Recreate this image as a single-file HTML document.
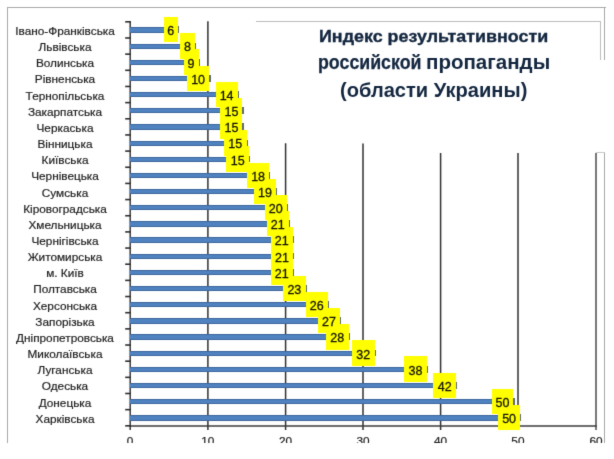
<!DOCTYPE html><html><head><meta charset="utf-8"><style>
html,body{margin:0;padding:0;background:#fff;}
body{width:614px;height:459px;position:relative;overflow:hidden;font-family:"Liberation Sans",sans-serif;}
.a{position:absolute;}
.lbl{position:absolute;left:0;width:130px;text-align:center;font-size:11.8px;color:#1e1e1e;line-height:14px;white-space:nowrap;-webkit-text-stroke:0.2px #1e1e1e;}
.bar{position:absolute;background:#4f82c0;height:5.3px;box-shadow:inset 0 1px 0 #3d679c,inset 0 -1px 0 #3d679c;}
.box{position:absolute;background:#ffff00;height:25.4px;}
.num{position:absolute;font-size:12.5px;color:#141400;-webkit-text-stroke:0.3px #141400;line-height:14px;text-align:center;white-space:nowrap;}
.mk{position:absolute;width:1.7px;height:6.8px;background:#606a76;}
.g{position:absolute;width:2px;background:#3e3e3e;}
.xl{position:absolute;font-size:11.8px;color:#222;-webkit-text-stroke:0.2px #222;line-height:14px;width:40px;text-align:center;}
.t{position:absolute;left:0;width:614px;text-align:center;font-weight:bold;color:#182c4a;white-space:nowrap;}
.t2{position:absolute;font-weight:bold;color:#13263f;white-space:nowrap;transform-origin:0 0;}
#w{position:absolute;left:0;top:0;width:640px;height:480px;background:#fff;filter:url(#bl);}
</style></head><body><svg width="0" height="0" style="position:absolute"><filter id="bl" x="0" y="0" width="100%" height="100%" color-interpolation-filters="sRGB"><feConvolveMatrix order="3" kernelMatrix="0.0112 0.0835 0.0112 0.0835 0.6212 0.0835 0.0112 0.0835 0.0112" edgeMode="duplicate" preserveAlpha="true"/></filter></svg><div id="w">
<div class="a" style="left:7px;top:7px;width:599px;height:1px;background:#a8a8a8"></div>
<div class="a" style="left:7px;top:7px;width:1px;height:436px;background:#a8a8a8"></div>
<div class="a" style="left:604px;top:7px;width:1px;height:53px;background:#a8a8a8"></div>
<div class="a" style="left:604px;top:152px;width:1px;height:291px;background:#a8a8a8"></div>
<div class="a" style="left:596px;top:152px;width:9px;height:1px;background:#c8c8c8"></div>
<div class="a" style="left:256px;top:21px;width:344px;height:1px;background:#bcbcbc"></div>
<div class="a" style="left:600px;top:21px;width:1px;height:39px;background:#bcbcbc"></div>
<svg class="a" style="left:0;top:0" width="614" height="459" shape-rendering="geometricPrecision"><line x1="207.9" y1="21.2" x2="207.9" y2="430" stroke="#303030" stroke-width="1.5"/><line x1="285.6" y1="143.2" x2="285.6" y2="430" stroke="#303030" stroke-width="1.5"/><line x1="363.0" y1="143.5" x2="363.0" y2="430" stroke="#303030" stroke-width="1.5"/><line x1="440.6" y1="153.0" x2="440.6" y2="430" stroke="#303030" stroke-width="1.5"/><line x1="518.0" y1="153.0" x2="518.0" y2="430" stroke="#303030" stroke-width="1.5"/><line x1="596.0" y1="153.0" x2="596.0" y2="430" stroke="#4a4a4a" stroke-width="1.5"/><line x1="130.2" y1="21.3" x2="130.2" y2="430" stroke="#3a3a3a" stroke-width="1.5"/><line x1="129.5" y1="425.9" x2="596.7" y2="425.9" stroke="#3a3a3a" stroke-width="1.5"/><line x1="125.2" y1="21.82" x2="130.9" y2="21.82" stroke="#2e2e2e" stroke-width="1.6"/><line x1="125.2" y1="37.98" x2="130.9" y2="37.98" stroke="#2e2e2e" stroke-width="1.6"/><line x1="125.2" y1="54.14" x2="130.9" y2="54.14" stroke="#2e2e2e" stroke-width="1.6"/><line x1="125.2" y1="70.30" x2="130.9" y2="70.30" stroke="#2e2e2e" stroke-width="1.6"/><line x1="125.2" y1="86.46" x2="130.9" y2="86.46" stroke="#2e2e2e" stroke-width="1.6"/><line x1="125.2" y1="102.62" x2="130.9" y2="102.62" stroke="#2e2e2e" stroke-width="1.6"/><line x1="125.2" y1="118.78" x2="130.9" y2="118.78" stroke="#2e2e2e" stroke-width="1.6"/><line x1="125.2" y1="134.94" x2="130.9" y2="134.94" stroke="#2e2e2e" stroke-width="1.6"/><line x1="125.2" y1="151.10" x2="130.9" y2="151.10" stroke="#2e2e2e" stroke-width="1.6"/><line x1="125.2" y1="167.26" x2="130.9" y2="167.26" stroke="#2e2e2e" stroke-width="1.6"/><line x1="125.2" y1="183.42" x2="130.9" y2="183.42" stroke="#2e2e2e" stroke-width="1.6"/><line x1="125.2" y1="199.58" x2="130.9" y2="199.58" stroke="#2e2e2e" stroke-width="1.6"/><line x1="125.2" y1="215.74" x2="130.9" y2="215.74" stroke="#2e2e2e" stroke-width="1.6"/><line x1="125.2" y1="231.90" x2="130.9" y2="231.90" stroke="#2e2e2e" stroke-width="1.6"/><line x1="125.2" y1="248.06" x2="130.9" y2="248.06" stroke="#2e2e2e" stroke-width="1.6"/><line x1="125.2" y1="264.22" x2="130.9" y2="264.22" stroke="#2e2e2e" stroke-width="1.6"/><line x1="125.2" y1="280.38" x2="130.9" y2="280.38" stroke="#2e2e2e" stroke-width="1.6"/><line x1="125.2" y1="296.54" x2="130.9" y2="296.54" stroke="#2e2e2e" stroke-width="1.6"/><line x1="125.2" y1="312.70" x2="130.9" y2="312.70" stroke="#2e2e2e" stroke-width="1.6"/><line x1="125.2" y1="328.86" x2="130.9" y2="328.86" stroke="#2e2e2e" stroke-width="1.6"/><line x1="125.2" y1="345.02" x2="130.9" y2="345.02" stroke="#2e2e2e" stroke-width="1.6"/><line x1="125.2" y1="361.18" x2="130.9" y2="361.18" stroke="#2e2e2e" stroke-width="1.6"/><line x1="125.2" y1="377.34" x2="130.9" y2="377.34" stroke="#2e2e2e" stroke-width="1.6"/><line x1="125.2" y1="393.50" x2="130.9" y2="393.50" stroke="#2e2e2e" stroke-width="1.6"/><line x1="125.2" y1="409.66" x2="130.9" y2="409.66" stroke="#2e2e2e" stroke-width="1.6"/><line x1="125.2" y1="425.82" x2="130.9" y2="425.82" stroke="#2e2e2e" stroke-width="1.6"/></svg>
<div class="lbl" style="top:23.90px">Івано-Франківська</div>
<div class="bar" style="left:130.00px;top:27.40px;width:33.50px"></div>
<div class="mk" style="left:177.60px;top:26.40px"></div>
<div class="lbl" style="top:40.06px">Львівська</div>
<div class="bar" style="left:130.00px;top:43.56px;width:50.30px"></div>
<div class="mk" style="left:194.20px;top:42.56px"></div>
<div class="lbl" style="top:56.22px">Волинська</div>
<div class="bar" style="left:130.00px;top:59.72px;width:53.50px"></div>
<div class="mk" style="left:198.20px;top:58.72px"></div>
<div class="lbl" style="top:72.38px">Рівненська</div>
<div class="bar" style="left:130.00px;top:75.88px;width:56.80px"></div>
<div class="mk" style="left:209.00px;top:74.88px"></div>
<div class="lbl" style="top:88.54px">Тернопільська</div>
<div class="bar" style="left:130.00px;top:92.04px;width:85.60px"></div>
<div class="mk" style="left:237.20px;top:91.04px"></div>
<div class="lbl" style="top:104.70px">Закарпатська</div>
<div class="bar" style="left:130.00px;top:108.20px;width:90.40px"></div>
<div class="mk" style="left:242.10px;top:107.20px"></div>
<div class="lbl" style="top:120.86px">Черкаська</div>
<div class="bar" style="left:130.00px;top:124.36px;width:90.40px"></div>
<div class="mk" style="left:242.10px;top:123.36px"></div>
<div class="lbl" style="top:137.02px">Вінницька</div>
<div class="bar" style="left:130.00px;top:140.52px;width:94.00px"></div>
<div class="mk" style="left:246.20px;top:139.52px"></div>
<div class="lbl" style="top:153.18px">Київська</div>
<div class="bar" style="left:130.00px;top:156.68px;width:96.40px"></div>
<div class="mk" style="left:248.60px;top:155.68px"></div>
<div class="lbl" style="top:169.34px">Чернівецька</div>
<div class="bar" style="left:130.00px;top:172.84px;width:117.20px"></div>
<div class="mk" style="left:268.60px;top:171.84px"></div>
<div class="lbl" style="top:185.50px">Сумська</div>
<div class="bar" style="left:130.00px;top:189.00px;width:124.00px"></div>
<div class="mk" style="left:275.40px;top:188.00px"></div>
<div class="lbl" style="top:201.66px">Кіровоградська</div>
<div class="bar" style="left:130.00px;top:205.16px;width:134.80px"></div>
<div class="mk" style="left:286.20px;top:204.16px"></div>
<div class="lbl" style="top:217.82px">Хмельницька</div>
<div class="bar" style="left:130.00px;top:221.32px;width:136.60px"></div>
<div class="mk" style="left:288.40px;top:220.32px"></div>
<div class="lbl" style="top:233.98px">Чернігівська</div>
<div class="bar" style="left:130.00px;top:237.48px;width:140.70px"></div>
<div class="mk" style="left:292.30px;top:236.48px"></div>
<div class="lbl" style="top:250.14px">Житомирська</div>
<div class="bar" style="left:130.00px;top:253.64px;width:140.90px"></div>
<div class="mk" style="left:292.50px;top:252.64px"></div>
<div class="lbl" style="top:266.30px">м. Київ</div>
<div class="bar" style="left:130.00px;top:269.80px;width:140.70px"></div>
<div class="mk" style="left:292.30px;top:268.80px"></div>
<div class="lbl" style="top:282.46px">Полтавська</div>
<div class="bar" style="left:130.00px;top:285.96px;width:153.10px"></div>
<div class="mk" style="left:305.20px;top:284.96px"></div>
<div class="lbl" style="top:298.62px">Херсонська</div>
<div class="bar" style="left:130.00px;top:302.12px;width:175.60px"></div>
<div class="mk" style="left:327.60px;top:301.12px"></div>
<div class="lbl" style="top:314.78px">Запорізька</div>
<div class="bar" style="left:130.00px;top:318.28px;width:188.00px"></div>
<div class="mk" style="left:339.40px;top:317.28px"></div>
<div class="lbl" style="top:330.94px">Дніпропетровська</div>
<div class="bar" style="left:130.00px;top:334.44px;width:195.90px"></div>
<div class="mk" style="left:348.20px;top:333.44px"></div>
<div class="lbl" style="top:347.10px">Миколаївська</div>
<div class="bar" style="left:130.00px;top:350.60px;width:222.00px"></div>
<div class="mk" style="left:374.20px;top:349.60px"></div>
<div class="lbl" style="top:363.26px">Луганська</div>
<div class="bar" style="left:130.00px;top:366.76px;width:274.00px"></div>
<div class="mk" style="left:426.40px;top:365.76px"></div>
<div class="lbl" style="top:379.42px">Одеська</div>
<div class="bar" style="left:130.00px;top:382.92px;width:303.40px"></div>
<div class="mk" style="left:455.70px;top:381.92px"></div>
<div class="lbl" style="top:395.58px">Донецька</div>
<div class="bar" style="left:130.00px;top:399.08px;width:361.70px"></div>
<div class="mk" style="left:512.90px;top:398.08px"></div>
<div class="lbl" style="top:411.74px">Харківська</div>
<div class="bar" style="left:130.00px;top:415.24px;width:368.00px"></div>
<div class="mk" style="left:519.80px;top:414.24px"></div>
<div class="box" style="left:163.50px;top:17.10px;width:14.50px"></div>
<div class="box" style="left:180.30px;top:33.26px;width:14.30px"></div>
<div class="box" style="left:183.50px;top:49.42px;width:15.10px"></div>
<div class="box" style="left:186.80px;top:65.58px;width:22.60px"></div>
<div class="box" style="left:215.60px;top:81.74px;width:22.00px"></div>
<div class="box" style="left:220.40px;top:97.90px;width:22.10px"></div>
<div class="box" style="left:220.40px;top:114.06px;width:22.10px"></div>
<div class="box" style="left:224.00px;top:130.22px;width:22.60px"></div>
<div class="box" style="left:226.40px;top:146.38px;width:22.60px"></div>
<div class="box" style="left:247.20px;top:162.54px;width:21.80px"></div>
<div class="box" style="left:254.00px;top:178.70px;width:21.80px"></div>
<div class="box" style="left:264.80px;top:194.86px;width:21.80px"></div>
<div class="box" style="left:266.60px;top:211.02px;width:22.20px"></div>
<div class="box" style="left:270.70px;top:227.18px;width:22.00px"></div>
<div class="box" style="left:270.90px;top:243.34px;width:22.00px"></div>
<div class="box" style="left:270.70px;top:259.50px;width:22.00px"></div>
<div class="box" style="left:283.10px;top:275.66px;width:22.50px"></div>
<div class="box" style="left:305.60px;top:291.82px;width:22.40px"></div>
<div class="box" style="left:318.00px;top:307.98px;width:21.80px"></div>
<div class="box" style="left:325.90px;top:324.14px;width:22.70px"></div>
<div class="box" style="left:352.00px;top:340.30px;width:22.60px"></div>
<div class="box" style="left:404.00px;top:356.46px;width:22.80px"></div>
<div class="box" style="left:433.40px;top:372.62px;width:22.70px"></div>
<div class="box" style="left:491.70px;top:388.78px;width:21.60px"></div>
<div class="box" style="left:498.00px;top:404.94px;width:22.20px"></div>
<div class="num" style="left:163.50px;top:24.30px;width:14.50px">6</div>
<div class="num" style="left:180.30px;top:40.46px;width:14.30px">8</div>
<div class="num" style="left:183.50px;top:56.62px;width:15.10px">9</div>
<div class="num" style="left:186.80px;top:72.78px;width:22.60px">10</div>
<div class="num" style="left:215.60px;top:88.94px;width:22.00px">14</div>
<div class="num" style="left:220.40px;top:105.10px;width:22.10px">15</div>
<div class="num" style="left:220.40px;top:121.26px;width:22.10px">15</div>
<div class="num" style="left:224.00px;top:137.42px;width:22.60px">15</div>
<div class="num" style="left:226.40px;top:153.58px;width:22.60px">15</div>
<div class="num" style="left:247.20px;top:169.74px;width:21.80px">18</div>
<div class="num" style="left:254.00px;top:185.90px;width:21.80px">19</div>
<div class="num" style="left:264.80px;top:202.06px;width:21.80px">20</div>
<div class="num" style="left:266.60px;top:218.22px;width:22.20px">21</div>
<div class="num" style="left:270.70px;top:234.38px;width:22.00px">21</div>
<div class="num" style="left:270.90px;top:250.54px;width:22.00px">21</div>
<div class="num" style="left:270.70px;top:266.70px;width:22.00px">21</div>
<div class="num" style="left:283.10px;top:282.86px;width:22.50px">23</div>
<div class="num" style="left:305.60px;top:299.02px;width:22.40px">26</div>
<div class="num" style="left:318.00px;top:315.18px;width:21.80px">27</div>
<div class="num" style="left:325.90px;top:331.34px;width:22.70px">28</div>
<div class="num" style="left:352.00px;top:347.50px;width:22.60px">32</div>
<div class="num" style="left:404.00px;top:363.66px;width:22.80px">38</div>
<div class="num" style="left:433.40px;top:379.82px;width:22.70px">42</div>
<div class="num" style="left:491.70px;top:395.98px;width:21.60px">50</div>
<div class="num" style="left:498.00px;top:412.14px;width:22.20px">50</div>
<div class="xl" style="left:110.00px;top:433.5px">0</div>
<div class="xl" style="left:187.80px;top:433.5px">10</div>
<div class="xl" style="left:265.50px;top:433.5px">20</div>
<div class="xl" style="left:343.00px;top:433.5px">30</div>
<div class="xl" style="left:420.60px;top:433.5px">40</div>
<div class="xl" style="left:497.90px;top:433.5px">50</div>
<div class="xl" style="left:576.00px;top:433.5px">60</div>
<div class="a" style="left:0;top:442.5px;width:640px;height:40px;background:#fff"></div>
<div class="t2" style="left:319.3px;top:25.7px;font-size:17.2px;line-height:20px;transform:scaleX(1.041);-webkit-text-stroke:0.35px #13263f">Индекс результативности</div>
<div class="t2" style="left:317.8px;top:51.2px;font-size:20px;line-height:22px;transform:scaleX(0.889);-webkit-text-stroke:0.25px #13263f">российской</div>
<div class="t2" style="left:425.8px;top:51.2px;font-size:20px;line-height:22px;transform:scaleX(1.026)">пропаганды</div>
<div class="t2" style="left:340px;top:78.8px;font-size:20.1px;line-height:22px;">(области Украины)</div>
</div></body></html>
